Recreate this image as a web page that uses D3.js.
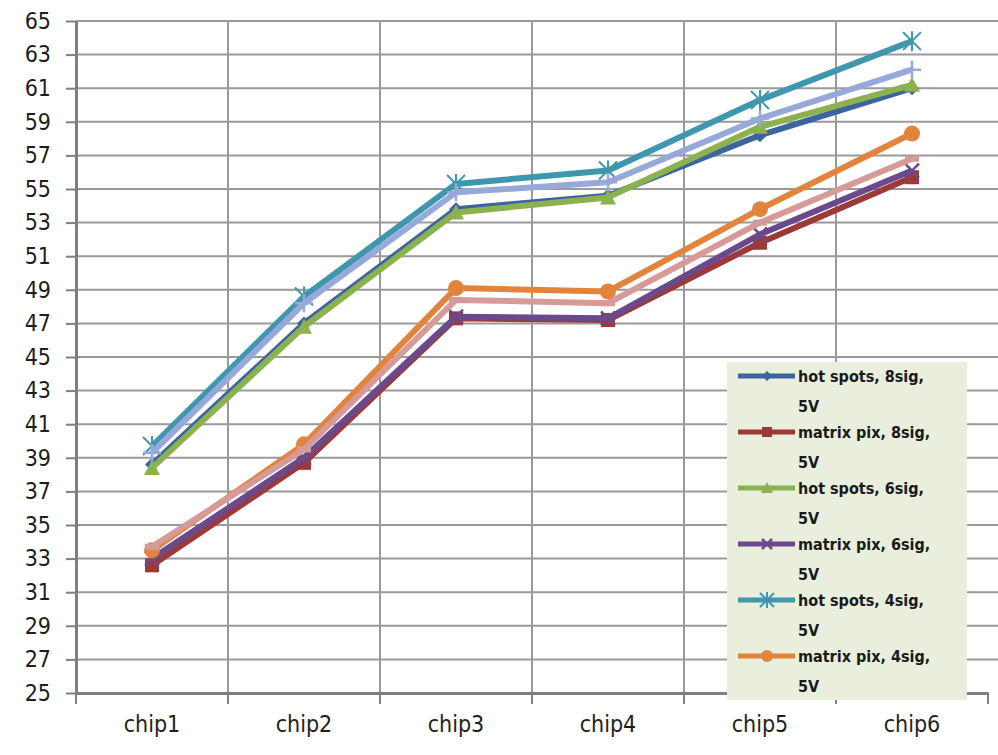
<!DOCTYPE html>
<html>
<head>
<meta charset="utf-8">
<script src="https://cdn.jsdelivr.net/npm/d3@7/dist/d3.min.js"></script>
<style>
  html, body { margin: 0; padding: 0; background: #fff; }
  svg { display: block; }
</style>
</head>
<body>
<svg id="chart" width="998" height="755"></svg>
<script>
// Categories and y-axis ticks
const chips = ["chip1", "chip2", "chip3", "chip4", "chip5", "chip6"];
const yTicks = [25, 27, 29, 31, 33, 35, 37, 39, 41, 43, 45, 47, 49, 51, 53, 55, 57, 59, 61, 63, 65];

// Series values
const hotSpots8 = [38.6, 47.0, 53.8, 54.6, 58.2, 61.0];
const matrixPix8 = [32.6, 38.7, 47.3, 47.2, 51.8, 55.7];
const hotSpots6 = [38.4, 46.8, 53.6, 54.5, 58.7, 61.2];
const matrixPix6 = [33.0, 39.0, 47.4, 47.3, 52.3, 56.1];
const hotSpots4 = [39.7, 48.6, 55.3, 56.1, 60.3, 63.8];
const matrixPix4 = [33.5, 39.8, 49.1, 48.9, 53.8, 58.3];
const series7 = [39.3, 48.2, 54.8, 55.4, 59.2, 62.1];
const series8 = [33.7, 39.5, 48.4, 48.2, 53.0, 56.8];

const seriesNames = [
  ["hot spots, 8sig,", "5V"],
  ["matrix pix, 8sig,", "5V"],
  ["hot spots, 6sig,", "5V"],
  ["matrix pix, 6sig,", "5V"],
  ["hot spots, 4sig,", "5V"],
  ["matrix pix, 4sig,", "5V"],
  ["Series7", ""],
  ["Series8", ""]
];

const series = [
  { name: seriesNames[0], values: hotSpots8, color: "#3e64a0", marker: "diamond", legend: true },
  { name: seriesNames[1], values: matrixPix8, color: "#9b3a39", marker: "square", legend: true },
  { name: seriesNames[2], values: hotSpots6, color: "#8cb250", marker: "triangle", legend: true },
  { name: seriesNames[3], values: matrixPix6, color: "#6a4a8c", marker: "x", legend: true },
  { name: seriesNames[4], values: hotSpots4, color: "#3f97ae", marker: "star", legend: true },
  { name: seriesNames[5], values: matrixPix4, color: "#e3843c", marker: "circle", legend: true },
  { name: seriesNames[6], values: series7, color: "#96a9d8", marker: "plus", legend: false },
  { name: seriesNames[7], values: series8, color: "#d69b98", marker: "dash", legend: false }
];

const svg = d3.select("#chart");
const plotLeft = 76, plotRight = 988, plotTop = 21, plotBottom = 693;

const x = d3.scaleBand().domain(chips).range([plotLeft, plotRight]).paddingInner(0).paddingOuter(0);
const y = d3.scaleLinear().domain([25, 65]).range([plotBottom, plotTop]);

const labelFont = "'Liberation Sans Narrow', 'DejaVu Sans Condensed', 'Arial Narrow', sans-serif";

// Horizontal gridlines
svg.append("g")
  .selectAll("line")
  .data(yTicks.filter(d => d !== 25))
  .join("line")
  .attr("x1", plotLeft).attr("x2", 998)
  .attr("y1", d => y(d)).attr("y2", d => y(d))
  .attr("stroke", "#9a9a9a").attr("stroke-width", 2);

// Vertical gridlines at category boundaries
svg.append("g")
  .selectAll("line")
  .data(chips.slice(1))
  .join("line")
  .attr("x1", d => x(d)).attr("x2", d => x(d))
  .attr("y1", plotTop).attr("y2", plotBottom)
  .attr("stroke", "#9a9a9a").attr("stroke-width", 2);

// Y axis
const yAxis = svg.append("g")
  .attr("transform", `translate(${plotLeft},0)`)
  .call(d3.axisLeft(y).tickValues(yTicks).tickSize(10).tickPadding(15).tickSizeOuter(0));
yAxis.select(".domain").attr("stroke", "#7f7f7f").attr("stroke-width", 3);
yAxis.selectAll(".tick line").attr("stroke", "#7f7f7f").attr("stroke-width", 2);
yAxis.selectAll(".tick text")
  .attr("fill", "#1e1e1e").attr("font-size", 23).attr("font-family", labelFont);

// X axis
const xAxis = svg.append("g")
  .attr("transform", `translate(0,${plotBottom})`)
  .call(d3.axisBottom(x).tickSize(0).tickPadding(23).tickSizeOuter(0));
xAxis.select(".domain").attr("stroke", "#7f7f7f").attr("stroke-width", 3);
xAxis.selectAll(".tick text")
  .attr("fill", "#1e1e1e").attr("font-size", 23).attr("font-family", labelFont);
// Category boundary ticks below the axis
svg.append("g")
  .selectAll("line")
  .data(d3.range(chips.length + 1))
  .join("line")
  .attr("x1", i => plotLeft + i * x.bandwidth()).attr("x2", i => plotLeft + i * x.bandwidth())
  .attr("y1", plotBottom).attr("y2", plotBottom + 11)
  .attr("stroke", "#7f7f7f").attr("stroke-width", 2);

// Marker drawing
function drawMarker(g, type, color, cx, cy, s = 7) {
  if (type === "diamond") {
    g.append("path").attr("d", `M${cx},${cy - s}L${cx + s},${cy}L${cx},${cy + s}L${cx - s},${cy}Z`).attr("fill", color);
  } else if (type === "square") {
    g.append("rect").attr("x", cx - s).attr("y", cy - s).attr("width", 2 * s).attr("height", 2 * s).attr("fill", color);
  } else if (type === "triangle") {
    g.append("path").attr("d", `M${cx},${cy - s - 1}L${cx + s + 1},${cy + s}L${cx - s - 1},${cy + s}Z`).attr("fill", color);
  } else if (type === "x") {
    g.append("path").attr("d", `M${cx - s},${cy - s}L${cx + s},${cy + s}M${cx - s},${cy + s}L${cx + s},${cy - s}`)
      .attr("stroke", color).attr("stroke-width", 2.5);
  } else if (type === "star") {
    g.append("path").attr("d", `M${cx - s - 2},${cy - s - 2}L${cx + s + 2},${cy + s + 2}M${cx - s - 2},${cy + s + 2}L${cx + s + 2},${cy - s - 2}M${cx},${cy - s - 3}L${cx},${cy + s + 3}`)
      .attr("stroke", color).attr("stroke-width", 2);
  } else if (type === "circle") {
    g.append("circle").attr("cx", cx).attr("cy", cy).attr("r", s + 1).attr("fill", color);
  } else if (type === "plus") {
    g.append("path").attr("d", `M${cx - s - 2},${cy}L${cx + s + 2},${cy}M${cx},${cy - s - 2}L${cx},${cy + s + 2}`)
      .attr("stroke", color).attr("stroke-width", 2.5);
  } else if (type === "dash") {
    g.append("rect").attr("x", cx - s).attr("y", cy - 3).attr("width", 2 * s).attr("height", 6).attr("fill", color);
  }
}

const line = d3.line()
  .x((d, i) => x(chips[i]) + x.bandwidth() / 2)
  .y(d => y(d));

const plot = svg.append("g");
series.forEach(s => {
  const g = plot.append("g");
  g.append("path")
    .datum(s.values)
    .attr("d", line)
    .attr("fill", "none")
    .attr("stroke", s.color)
    .attr("stroke-width", 6)
    .attr("stroke-linejoin", "round");
  s.values.forEach((v, i) => drawMarker(g, s.marker, s.color, x(chips[i]) + x.bandwidth() / 2, y(v)));
});

// Legend (first six series)
const legendX = 727, legendY = 362, legendW = 240, legendH = 338;
const legend = svg.append("g");
legend.append("rect")
  .attr("x", legendX).attr("y", legendY).attr("width", legendW).attr("height", legendH)
  .attr("fill", "#e9efdc");
const legendItems = series.filter(s => s.legend);
legendItems.forEach((s, i) => {
  const ly = legendY + 14 + i * 56;
  const g = legend.append("g");
  g.append("line").attr("x1", 738).attr("x2", 795).attr("y1", ly).attr("y2", ly)
    .attr("stroke", s.color).attr("stroke-width", 5);
  drawMarker(g, s.marker, s.color, 767, ly, 5);
  g.append("text").attr("x", 798).attr("y", ly + 6)
    .attr("font-family", labelFont).attr("font-weight", "bold").attr("font-size", 16)
    .attr("fill", "#1a1a1a").text(s.name[0]);
  g.append("text").attr("x", 798).attr("y", ly + 36)
    .attr("font-family", labelFont).attr("font-weight", "bold").attr("font-size", 16)
    .attr("fill", "#1a1a1a").text(s.name[1]);
});
</script>
</body>
</html>
